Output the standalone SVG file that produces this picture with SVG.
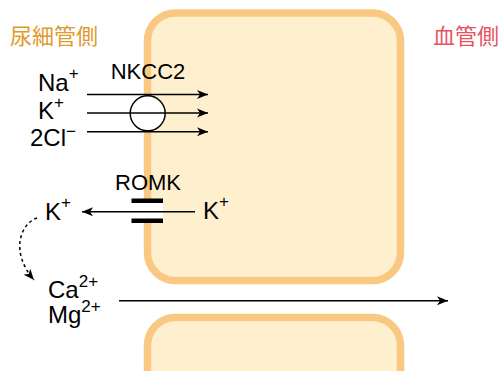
<svg xmlns="http://www.w3.org/2000/svg" width="504" height="371" viewBox="0 0 504 371">
<defs>
<style>
.cell{fill:#FEF0CE;stroke:#F9C983;stroke-width:7.5}
.ion{font-family:"Liberation Sans",Arial,sans-serif;font-size:24px;fill:#000}
.sup{font-size:17px}
.lbl{font-family:"Liberation Sans",Arial,sans-serif;font-size:22px;fill:#000;text-anchor:middle}
.jp{font-family:"Noto Sans CJK JP","Noto Sans CJK SC",sans-serif;font-size:22px}
.ln{stroke:#000;stroke-width:1.5;fill:none}
</style>
<marker id="ah" markerWidth="12" markerHeight="10" refX="11" refY="5" orient="auto" markerUnits="userSpaceOnUse">
<path d="M0,0.5 L11,5 L0,9.5 L3,5 z" fill="#000" stroke="none"/>
</marker>
</defs>
<g id="cell-top"><rect class="cell" x="147.5" y="13" width="253" height="267.5" rx="28"/></g>
<g id="cell-bottom"><rect class="cell" x="147.5" y="317.5" width="253" height="100" rx="28"/></g>
<g id="title-lumen"><text class="jp" x="10" y="44" fill="#DE9B2E">尿細管側</text></g>
<g id="title-blood"><text class="jp" x="433" y="44" fill="#E8535E">血管側</text></g>
<g id="nkcc2">
<circle cx="147.7" cy="113.3" r="17.5" fill="#fff" stroke="#000" stroke-width="1.5"/>
<text class="lbl" x="148" y="79.3">NKCC2</text>
</g>
<g id="romk">
<rect x="131.5" y="201" width="31.5" height="19" fill="#fff"/>
<rect x="131.5" y="198.5" width="31.5" height="4.5" fill="#000"/>
<rect x="131.5" y="218.5" width="31.5" height="4.5" fill="#000"/>
<text class="lbl" x="148" y="190">ROMK</text>
</g>
<g id="ion-na"><text class="ion" x="38" y="90.5">Na<tspan class="sup" dy="-12">+</tspan></text></g>
<g id="ion-k"><text class="ion" x="38" y="119">K<tspan class="sup" dy="-11">+</tspan></text></g>
<g id="ion-cl"><text class="ion" x="30" y="146">2Cl<tspan class="sup" dy="-9">−</tspan></text></g>
<g id="ion-k-left"><text class="ion" x="45" y="219.5">K<tspan class="sup" dy="-12">+</tspan></text></g>
<g id="ion-k-right"><text class="ion" x="203" y="218.5">K<tspan class="sup" dy="-12">+</tspan></text></g>
<g id="ion-ca"><text class="ion" x="48" y="297.5">Ca<tspan class="sup" dy="-11">2+</tspan></text></g>
<g id="ion-mg"><text class="ion" x="48" y="323">Mg<tspan class="sup" dy="-11">2+</tspan></text></g>
<g id="connectors">
<line class="ln" x1="87" y1="94.5" x2="208" y2="94.5" marker-end="url(#ah)"/>
<line class="ln" x1="87" y1="113" x2="208" y2="113" marker-end="url(#ah)"/>
<line class="ln" x1="87" y1="131.7" x2="208" y2="131.7" marker-end="url(#ah)"/>
<line class="ln" x1="195" y1="211.7" x2="82" y2="211.7" marker-end="url(#ah)"/>
<line class="ln" x1="119" y1="300.7" x2="448" y2="300.7" marker-end="url(#ah)"/>
<path class="ln" d="M37,218 C20,224 10,252 34,280" stroke-dasharray="3,3" marker-end="url(#ah)"/>
</g>
</svg>
